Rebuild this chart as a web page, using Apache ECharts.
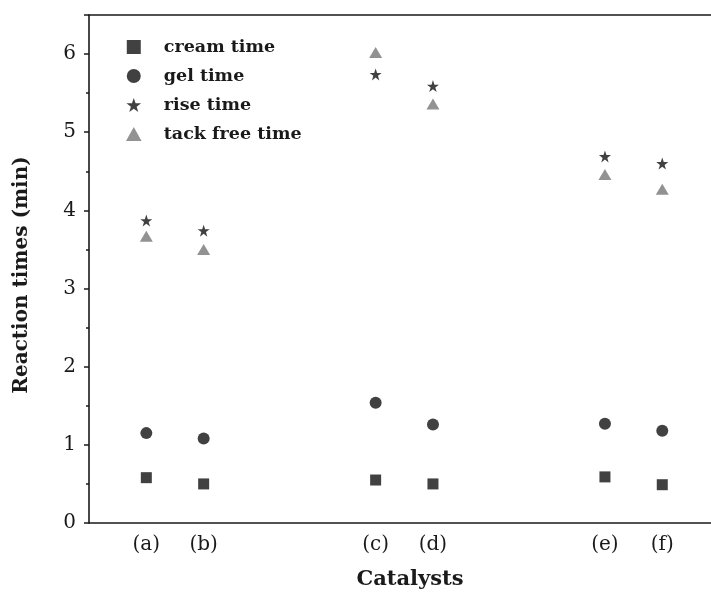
<!DOCTYPE html>
<html>
<head>
<meta charset="utf-8">
<script src="https://cdn.jsdelivr.net/npm/echarts@6/dist/echarts.min.js"></script>
<style>
  html, body { margin: 0; padding: 0; background: #fff; }
  #chart { width: 711px; height: 595px; }
</style>
</head>
<body>
<div id="chart"></div>
<script>
// Catalyst labels and their positions along the x axis (three pairs)
const catalysts = ['(a)', '(b)', '(c)', '(d)', '(e)', '(f)'];
const catalystPos = [1, 2, 5, 6, 9, 10];

// Reaction times in minutes
const creamTime = [0.58, 0.50, 0.55, 0.50, 0.59, 0.49];
const gelTime = [1.15, 1.08, 1.54, 1.26, 1.27, 1.18];
const riseTime = [3.87, 3.74, 5.74, 5.59, 4.69, 4.60];
const tackFreeTime = [3.67, 3.50, 6.02, 5.36, 4.46, 4.27];

const yTicks = [0, 1, 2, 3, 4, 5, 6];

const STAR = 'path://M50,0 L61.8,35.1 L98.1,35.1 L68.7,56.8 L79.4,91.9 L50,70 L20.6,91.9 L31.3,56.8 L1.9,35.1 L38.2,35.1 Z';
const SQUARE = 'path://M0,0H10V10H0Z';
const TRIANGLE = 'path://M5,0L10,9H0Z';
const FONT = '"DejaVu Serif", "Liberation Serif", serif';

const pairs = vals => vals.map((v, i) => [catalystPos[i], v]);
const labelAt = {};
catalystPos.forEach((p, i) => { labelAt[p] = catalysts[i]; });

const chart = echarts.init(document.getElementById('chart'), null, { renderer: 'canvas' });

const X_MIN = 0, X_MAX = 10.85;
const axisColor = '#1a1a1a';
const markColor = '#111';

chart.setOption({
  backgroundColor: '#fff',
  animation: false,
  grid: { left: 89, top: 15, bottom: 72, right: 0, show: false },
  legend: {
    orient: 'vertical',
    left: 121, top: 33,
    itemWidth: 50, itemHeight: 14, itemGap: 11,
    textStyle: { fontFamily: FONT, fontWeight: 'bold', fontSize: 17.5, color: '#1a1a1a' },
    data: [
      { name: 'cream time', icon: SQUARE },
      { name: 'gel time', icon: 'circle' },
      { name: 'rise time', icon: STAR },
      { name: 'tack free time', icon: TRIANGLE }
    ]
  },
  xAxis: [{
    type: 'value',
    min: X_MIN, max: X_MAX, interval: 1,
    name: 'Catalysts',
    nameLocation: 'middle',
    nameGap: 46,
    nameTextStyle: { fontFamily: FONT, fontWeight: 'bold', fontSize: 21, color: '#1a1a1a', padding: [0, 0, 0, 20] },
    axisLine: { show: true, lineStyle: { color: axisColor, width: 1.6 } },
    axisTick: { show: false },
    splitLine: { show: false },
    axisLabel: {
      margin: 12,
      fontFamily: FONT, fontSize: 20, color: '#1a1a1a',
      showMaxLabel: false,
      formatter: v => labelAt[v] || ''
    }
  }, {
    // top frame line
    type: 'value', position: 'top',
    min: X_MIN, max: X_MAX,
    axisLine: { show: true, lineStyle: { color: axisColor, width: 1.6 } },
    axisTick: { show: false },
    axisLabel: { show: false },
    splitLine: { show: false }
  }],
  yAxis: {
    type: 'value',
    min: 0, max: 6.5, interval: 1,
    name: 'Reaction times (min)',
    nameLocation: 'middle',
    nameGap: 57,
    nameTextStyle: { fontFamily: FONT, fontWeight: 'bold', fontSize: 20, color: '#1a1a1a', padding: [0, 12, 0, 0] },
    axisLine: { show: true, lineStyle: { color: axisColor, width: 1.6 } },
    axisTick: { show: true, inside: false, length: 5, lineStyle: { color: axisColor, width: 1.5 } },
    minorTick: { show: true, splitNumber: 2, length: 3, lineStyle: { color: axisColor, width: 1.5 } },
    splitLine: { show: false },
    axisLabel: {
      margin: 13,
      fontFamily: FONT, fontSize: 20, color: '#1a1a1a',
      formatter: v => (yTicks.indexOf(v) >= 0 ? String(v) : '')
    }
  },
  series: [
    { name: 'cream time', type: 'scatter', symbol: 'rect', symbolSize: 11,
      itemStyle: { color: markColor }, data: pairs(creamTime) },
    { name: 'gel time', type: 'scatter', symbol: 'circle', symbolSize: 12,
      itemStyle: { color: markColor }, data: pairs(gelTime) },
    { name: 'rise time', type: 'scatter', symbol: STAR, symbolSize: 12,
      itemStyle: { color: markColor }, data: pairs(riseTime) },
    { name: 'tack free time', type: 'scatter', symbol: 'triangle', symbolSize: [13, 11],
      itemStyle: { color: '#777' }, data: pairs(tackFreeTime) }
  ]
});
</script>
</body>
</html>
